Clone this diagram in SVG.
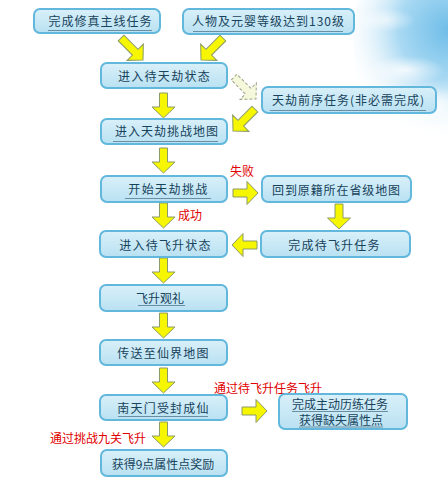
<svg xmlns="http://www.w3.org/2000/svg" xmlns:xlink="http://www.w3.org/1999/xlink" width="448" height="498" viewBox="0 0 448 498">
<defs>
<linearGradient id="boxg" x1="0" y1="0" x2="0" y2="1">
<stop offset="0" stop-color="#d9f0f9"/>
<stop offset="1" stop-color="#b9e1f2"/>
</linearGradient>
<radialGradient id="sky" cx="448" cy="30" r="110" gradientUnits="userSpaceOnUse">
<stop offset="0" stop-color="#6fbde8"/>
<stop offset="0.45" stop-color="#a9d9f3"/>
<stop offset="1" stop-color="#ffffff" stop-opacity="0"/>
</radialGradient>
<radialGradient id="cloud" cx="0.5" cy="0.5" r="0.5">
<stop offset="0" stop-color="#ffffff"/>
<stop offset="1" stop-color="#ffffff" stop-opacity="0"/>
</radialGradient>
<path id="arr" d="M-4,-25 L4,-25 L4,-11 L11.5,-11 L0,0 L-11.5,-11 L-4,-11 Z"/>
<path id="darr" d="M-4,-31 L4,-31 L4,-11 L11.5,-11 L0,0 L-11.5,-11 L-4,-11 Z"/>
</defs>
<style>
.box{fill:url(#boxg);stroke:#62b7dc;stroke-width:2}
.t{font-family:"Noto Sans CJK SC","Noto Sans",sans-serif;font-size:12px;fill:#17435c;text-anchor:middle;dominant-baseline:central}
.r{font-family:"Noto Sans CJK SC","Noto Sans",sans-serif;font-size:12px;fill:#e00000;text-anchor:middle;dominant-baseline:central}
.ul{stroke:#6a8ea4;stroke-width:1}
.a{fill:#f6f600;stroke:#8a9a68;stroke-width:1}
.ad{fill:#f5f8da;stroke:#9aa08a;stroke-width:1;stroke-dasharray:3 2}
</style>
<rect width="448" height="498" fill="#ffffff"/>
<g id="background">
<ellipse cx="448" cy="40" rx="95" ry="125" fill="url(#sky)"/>
<ellipse cx="405" cy="70" rx="40" ry="14" fill="url(#cloud)" opacity="0.8"/>
<ellipse cx="425" cy="105" rx="45" ry="18" fill="url(#cloud)" opacity="0.9"/>
<ellipse cx="385" cy="20" rx="30" ry="12" fill="url(#cloud)" opacity="0.6"/>
</g>
<g id="connectors">
<use href="#darr" class="a" transform="translate(143,60) rotate(-45)"/>
<use href="#darr" class="a" transform="translate(201,60) rotate(45)"/>
<use href="#darr" class="ad" transform="translate(256,99) rotate(-45)"/>
<use href="#darr" class="a" transform="translate(233,131) rotate(45)"/>
<use href="#arr" class="a" transform="translate(163.5,118)"/>
<use href="#arr" class="a" transform="translate(163.5,173)"/>
<use href="#arr" class="a" transform="translate(258,193) rotate(-90)"/>
<use href="#arr" class="a" transform="translate(339,229)"/>
<use href="#arr" class="a" transform="translate(232,245) rotate(90)"/>
<use href="#arr" class="a" transform="translate(163.5,228)"/>
<use href="#arr" class="a" transform="translate(163.5,283)"/>
<use href="#arr" class="a" transform="translate(163.5,338)"/>
<use href="#arr" class="a" transform="translate(163.5,393)"/>
<use href="#arr" class="a" transform="translate(267,411) rotate(-90)"/>
<use href="#arr" class="a" transform="translate(163.5,447)"/>
<text class="r" x="242" y="170">失败</text>
<text class="r" x="190" y="214">成功</text>
<text class="r" x="268" y="387">通过待飞升任务飞升</text>
<text class="r" x="98" y="437">通过挑战九关飞升</text>
</g>
<g id="n1">
<rect class="box" x="34" y="9" width="126" height="24" rx="6"/>
<text class="t" x="100.5" y="20" letter-spacing="1">完成修真主线任务</text>
<line class="ul" x1="48" y1="30.5" x2="152" y2="30.5"/>
</g>
<g id="n2">
<rect class="box" x="183" y="9" width="171" height="25" rx="6"/>
<text class="t" x="268.5" y="20.5" letter-spacing="1">人物及元婴等级达到130级</text>
<line class="ul" x1="193" y1="31.5" x2="343" y2="31.5"/>
</g>
<g id="n3">
<rect class="box" x="101" y="63" width="126" height="25" rx="6"/>
<text class="t" x="164.5" y="75" letter-spacing="1.3">进入待天劫状态</text>
</g>
<g id="n4">
<rect class="box" x="262" y="87" width="174" height="26" rx="6"/>
<text class="t" x="348.5" y="99.5" letter-spacing="1">天劫前序任务(非必需完成)</text>
<line class="ul" x1="270" y1="110.5" x2="426" y2="110.5"/>
</g>
<g id="n5">
<rect class="box" x="101" y="119" width="126" height="25" rx="6"/>
<text class="t" x="167" y="130.5" letter-spacing="1">进入天劫挑战地图</text>
<line class="ul" x1="113" y1="141.5" x2="218" y2="141.5"/>
</g>
<g id="n6">
<rect class="box" x="101" y="176" width="126" height="26" rx="6"/>
<text class="t" x="168.5" y="188.5" letter-spacing="1.4">开始天劫挑战</text>
<line class="ul" x1="125" y1="198.5" x2="211" y2="198.5"/>
</g>
<g id="n7">
<rect class="box" x="262" y="176" width="149" height="26" rx="6"/>
<text class="t" x="336.5" y="189" letter-spacing="0.9">回到原籍所在省级地图</text>
</g>
<g id="n8">
<rect class="box" x="100" y="231" width="127" height="26" rx="6"/>
<text class="t" x="165.5" y="244" letter-spacing="1.2">进入待飞升状态</text>
</g>
<g id="n9">
<rect class="box" x="261" y="231" width="149" height="26" rx="6"/>
<text class="t" x="334.5" y="244" letter-spacing="1.2">完成待飞升任务</text>
</g>
<g id="n10">
<rect class="box" x="100" y="285" width="127" height="26" rx="6"/>
<text class="t" x="160" y="297.5">飞升观礼</text>
<line class="ul" x1="138" y1="305.5" x2="185" y2="305.5"/>
</g>
<g id="n11">
<rect class="box" x="100" y="340" width="127" height="25" rx="6"/>
<text class="t" x="163.5" y="352.5" letter-spacing="1.2">传送至仙界地图</text>
</g>
<g id="n12">
<rect class="box" x="100" y="395" width="127" height="25" rx="6"/>
<text class="t" x="163.5" y="407" letter-spacing="1.2">南天门受封成仙</text>
<line class="ul" x1="118" y1="416.5" x2="208" y2="416.5"/>
</g>
<g id="n13">
<rect class="box" x="279" y="394" width="128" height="35" rx="6"/>
<text class="t" x="340" y="403.5">完成主动历练任务</text>
<line class="ul" x1="292" y1="411.5" x2="388" y2="411.5"/>
<text class="t" x="341" y="419.5">获得缺失属性点</text>
<line class="ul" x1="299" y1="427" x2="383" y2="427"/>
</g>
<g id="n14">
<rect class="box" x="101" y="450" width="126" height="26" rx="6"/>
<text class="t" x="163" y="463">获得9点属性点奖励</text>
</g>
</svg>
